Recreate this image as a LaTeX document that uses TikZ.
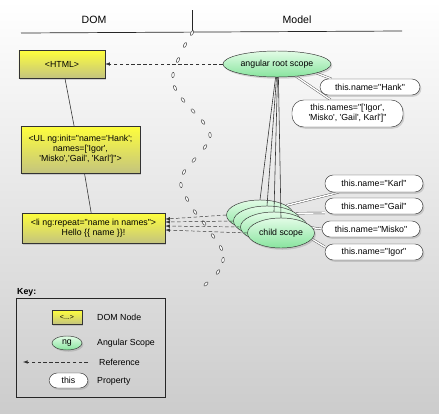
\documentclass[tikz,border=0pt]{standalone}
\usepackage{fontspec}
\setmainfont{Liberation Sans}[Ligatures=TeXOff]
\usetikzlibrary{shapes.geometric,shadows,backgrounds,positioning}

\definecolor{domyel}{HTML}{FFFF3C}
\definecolor{domolive}{HTML}{C4C47E}
\definecolor{scopelight}{HTML}{E2FCE6}
\definecolor{scopegreen}{HTML}{88E49E}

\tikzset{
    nodeshadow/.style={drop shadow={opacity=0.3, shadow xshift=1.2pt, shadow yshift=-1.5pt}},
    domnode/.style={draw=black!80, top color=domyel, bottom color=domolive, align=center, inner sep=1pt, nodeshadow},
    scopenode/.style={ellipse, draw=black!80, top color=scopelight, bottom color=scopegreen, inner sep=0pt, nodeshadow},
    propnode/.style={draw=black!80, fill=white, rounded corners=7pt, align=center, inner sep=1pt, nodeshadow},
    keylabel/.style={anchor=west, inner sep=0pt},
    refline/.style={black!80, dash pattern=on 3pt off 2pt, -latex},
    propline/.style={draw=black!70, double=white, double distance=1.2pt, line width=0.35pt},
    linkline/.style={black!80, line width=0.5pt},
    chainlink/.style={ellipse, draw=black!75, fill=white, line width=0.4pt, inner sep=0pt, minimum width=4.6pt, minimum height=2.2pt}
}

\begin{document}
\begin{tikzpicture}[x=0.03cm, y=-0.03cm, every node/.style={font=\fontsize{7.5}{8.6}\selectfont}]
    \useasboundingbox (0,0) rectangle (439,414);
    \begin{scope}[on background layer]
        \shade[top color=white, bottom color=black!20] (0,0) rectangle (439,414);
    \end{scope}

    % Header
    \draw[black!85, line width=0.6pt] (21,33) -- (402,31);
    \draw[black!85, line width=0.6pt] (192,10) -- (192,33);
    \node[font=\fontsize{9}{10}\selectfont] (domhead) at (94,20) {DOM};
    \node[font=\fontsize{9}{10}\selectfont] (modelhead) at (297,20) {Model};

    % Chain between DOM and Model
    \foreach \x/\y/\a [count=\i] in {192/33/60, 185/45/63, 178/60/68, 173/75/84, 175/88/112,
        183/100/128, 193/111/132, 203/122/125, 210/135/95, 205/147/57, 194/160/50,
        184/172/62, 181/185/96, 187/199/117, 195/212/125, 204/223/127, 213/236/124,
        221/248/113, 223/260/83, 218/272/55, 206/284/45}
        \node[chainlink, rotate=\a] (link\i) at (\x,\y) {};

    % DOM nodes
    \node[domnode, minimum width=2.58cm, minimum height=0.84cm] (html) at (62,64) {<HTML>};
    \node[domnode, minimum width=3.57cm, minimum height=1.41cm] (ul) at (80.5,149.5) {<UL ng:init="name='Hank';\\ names=['Igor',\\ 'Misko','Gail', 'Karl']">};
    \node[domnode, minimum width=4.29cm, minimum height=0.9cm] (li) at (93.5,228) {<li ng:repeat="name in names">\\ Hello \{\{ name \}\}!};
    \draw[linkline] ([xshift=2.5pt]html.south) -- ([xshift=-5.5pt]ul.north);
    \draw[linkline] ([xshift=3.4pt]ul.south) -- ([xshift=-2pt]li.north);

    % Scopes
    \node[scopenode, minimum width=3.24cm, minimum height=0.78cm] (root) at (277,64) {angular root scope};
    \node[scopenode, minimum width=2.01cm, minimum height=0.9cm] (c1) at (260,215) {child scope};
    \node[scopenode, minimum width=2.01cm, minimum height=0.9cm] (c2) at (267,221) {child scope};
    \node[scopenode, minimum width=2.01cm, minimum height=0.9cm] (c3) at (274,227) {child scope};
    \node[scopenode, minimum width=2.01cm, minimum height=0.9cm] (c4) at (281,233) {child scope};

    % Properties
    \node[propnode, minimum width=3cm, minimum height=0.48cm] (hank) at (370,87) {this.name="Hank"};
    \node[propnode, minimum width=3.33cm, minimum height=0.81cm, rounded corners=10pt] (names) at (347.5,113.5) {this.names="['Igor',\\ 'Misko', 'Gail', Karl']"};
    \node[propnode, minimum width=2.94cm, minimum height=0.51cm] (karl) at (374,183.5) {this.name="Karl"};
    \node[propnode, minimum width=2.94cm, minimum height=0.48cm] (gail) at (374,206) {this.name="Gail"};
    \node[propnode, minimum width=2.94cm, minimum height=0.48cm] (misko) at (371,229) {this.name="Misko"};
    \node[propnode, minimum width=2.94cm, minimum height=0.48cm] (igor) at (374,252) {this.name="Igor"};

    % Property links
    \begin{scope}[on background layer]
        \draw[propline] (root.-13) -- (hank.168);
        \draw[propline] (root.-33) -- (names.141);
        \draw[propline] (c1.20) -- (karl.194);
        \draw[propline] (c2.15) -- (gail.188);
        \draw[propline] (c3.east) -- (misko.west);
        \draw[propline] (c4.-11) -- (igor.174);
    \end{scope}

    % Scope tree
    \draw[linkline] ([xshift=-1.2pt]root.south) -- (c1.north);
    \draw[linkline] ([xshift=-0.4pt]root.south) -- (c2.north);
    \draw[linkline] ([xshift=0.4pt]root.south) -- (c3.north);
    \draw[linkline] ([xshift=1.2pt]root.south) -- (c4.north);

    % References
    \draw[refline] (root.west) -- (html.east);
    \draw[refline] (c1.west) -- ([yshift=7.6pt]li.east);
    \draw[refline] (c2.west) -- ([yshift=5.1pt]li.east);
    \draw[refline] (c3.west) -- ([yshift=1.7pt]li.east);
    \draw[refline] (c4.west) -- ([yshift=-1.7pt]li.east);

    % Key
    \node[draw=black!85, minimum width=4.47cm, minimum height=2.97cm] (keybox) at (90.5,347.5) {};
    \node[anchor=south west, inner sep=1pt, font=\fontsize{7.5}{8.6}\selectfont\bfseries] (keytitle) at (keybox.north west) {Key:};
    \node[domnode, minimum width=0.9cm, minimum height=0.42cm, font=\fontsize{6}{7}\selectfont] (keydom) at (67,317) {<...>};
    \node[scopenode, minimum width=0.9cm, minimum height=0.42cm] (keyng) at (67,343) {ng};
    \coordinate (keyrefa) at (88,362);
    \coordinate (keyrefb) at (23,362);
    \draw[refline] (keyrefa) -- (keyrefb);
    \node[propnode, minimum width=1.17cm, minimum height=0.45cm] (keythis) at (68.5,380.5) {this};
    \node[keylabel] (keydomlbl) at (97,317) {DOM Node};
    \node[keylabel] (keynglbl) at (97,343) {Angular Scope};
    \node[keylabel] (keyreflbl) at (99,362) {Reference};
    \node[keylabel] (keythislbl) at (97,381) {Property};
\end{tikzpicture}
\end{document}
